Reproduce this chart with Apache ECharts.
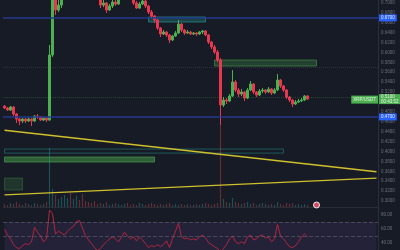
<!DOCTYPE html>
<html><head><meta charset="utf-8">
<script src="https://cdn.jsdelivr.net/npm/echarts@6/dist/echarts.min.js"></script>
<style>html,body{margin:0;padding:0;background:#171b26;}#c{width:400px;height:250px;}</style>
</head><body><div id="c"></div>
<script>
// ---- data ----
const categories = Array.from({length:125}, (_, i) => 'T' + i);
// [open, close, low, high]
const candles = [
[0.4920,0.4879,0.4859,0.4940],[0.4879,0.4839,0.4819,0.4900],[0.4839,0.4900,0.4819,0.4920],[0.4900,0.4758,0.4718,0.4920],
[0.4758,0.4657,0.4576,0.4779],[0.4657,0.4617,0.4536,0.4677],[0.4617,0.4657,0.4576,0.4677],[0.4657,0.4617,0.4576,0.4677],
[0.4617,0.4657,0.4597,0.4698],[0.4657,0.4617,0.4516,0.4677],[0.4617,0.4718,0.4597,0.4738],[0.4718,0.4698,0.4657,0.4758],
[0.4698,0.4637,0.4617,0.4718],[0.4637,0.4677,0.4617,0.4698],[0.4677,0.4637,0.4597,0.4698],[0.4637,0.5950,0.4617,0.6152],
[0.5950,0.7263,0.5910,0.7667],[0.7263,0.6859,0.6758,0.7364],[0.6859,0.6960,0.6818,0.7061],[0.6960,0.7222,0.6899,0.7303],
[0.7222,0.7400,0.7180,0.7450],[0.7400,0.7560,0.7380,0.7620],[0.7560,0.7480,0.7420,0.7600],[0.7480,0.7650,0.7460,0.7700],
[0.7650,0.7780,0.7600,0.7850],[0.7780,0.7700,0.7650,0.7820],[0.7700,0.7600,0.7550,0.7750],[0.7600,0.7500,0.7450,0.7650],
[0.7500,0.7420,0.7350,0.7560],[0.7420,0.7350,0.7280,0.7460],[0.7350,0.7280,0.7200,0.7400],[0.7280,0.7200,0.7150,0.7320],
[0.7162,0.6960,0.6899,0.7222],[0.6960,0.7000,0.6919,0.7061],[0.7000,0.6859,0.6798,0.7020],[0.6859,0.6940,0.6839,0.6980],
[0.6940,0.7020,0.6899,0.7081],[0.7020,0.6980,0.6940,0.7061],[0.6980,0.7122,0.6960,0.7182],[0.7122,0.7250,0.7100,0.7300],
[0.7250,0.7330,0.7200,0.7380],[0.7330,0.7220,0.7180,0.7360],[0.7220,0.7120,0.7090,0.7260],[0.7101,0.7000,0.6960,0.7142],
[0.7000,0.6899,0.6879,0.7040],[0.6899,0.6980,0.6879,0.7020],[0.6980,0.7040,0.6960,0.7081],[0.7040,0.6940,0.6899,0.7061],
[0.6940,0.6818,0.6778,0.6960],[0.6818,0.6737,0.6697,0.6859],[0.6737,0.6657,0.6596,0.6758],[0.6657,0.6495,0.6455,0.6677],
[0.6495,0.6374,0.6314,0.6515],[0.6374,0.6414,0.6354,0.6455],[0.6414,0.6354,0.6314,0.6435],[0.6354,0.6253,0.6192,0.6374],
[0.6253,0.6334,0.6233,0.6354],[0.6334,0.6394,0.6314,0.6435],[0.6394,0.6576,0.6374,0.6657],[0.6576,0.6455,0.6414,0.6596],
[0.6455,0.6394,0.6354,0.6475],[0.6394,0.6414,0.6374,0.6455],[0.6414,0.6374,0.6354,0.6435],[0.6374,0.6394,0.6354,0.6414],
[0.6394,0.6374,0.6334,0.6414],[0.6374,0.6414,0.6354,0.6435],[0.6414,0.6435,0.6374,0.6455],[0.6435,0.6354,0.6334,0.6455],
[0.6354,0.6212,0.6172,0.6374],[0.6212,0.6112,0.6071,0.6233],[0.6112,0.6011,0.5970,0.6152],[0.6011,0.5849,0.5809,0.6051],
[0.5849,0.4940,0.4536,0.5889],[0.4940,0.5041,0.4900,0.5102],[0.5041,0.5021,0.4960,0.5081],[0.5021,0.5122,0.5001,0.5162],
[0.5122,0.5405,0.5102,0.5647],[0.5405,0.5243,0.5203,0.5445],[0.5243,0.5162,0.5102,0.5283],[0.5162,0.5203,0.5122,0.5263],
[0.5203,0.5081,0.5021,0.5223],[0.5081,0.5243,0.5061,0.5283],[0.5243,0.5364,0.5223,0.5425],[0.5364,0.5203,0.5162,0.5384],
[0.5203,0.5142,0.5102,0.5223],[0.5142,0.5223,0.5122,0.5263],[0.5223,0.5243,0.5182,0.5283],[0.5243,0.5203,0.5162,0.5263],
[0.5203,0.5263,0.5182,0.5304],[0.5263,0.5182,0.5142,0.5283],[0.5182,0.5243,0.5162,0.5283],[0.5243,0.5445,0.5223,0.5566],
[0.5445,0.5324,0.5283,0.5465],[0.5324,0.5243,0.5203,0.5344],[0.5243,0.5102,0.5061,0.5263],[0.5102,0.5041,0.5001,0.5122],
[0.5041,0.4960,0.4900,0.5061],[0.4960,0.5001,0.4940,0.5041],[0.5001,0.5021,0.4980,0.5061],[0.5021,0.5041,0.5001,0.5081],
[0.5041,0.5122,0.5021,0.5142],[0.5122,0.5061,0.5041,0.5142]
];
const volumes = [
3,2,4,3,5,3,2,4,3,2,4,3,2,3,5,59,18,12,8,10,
12,9,14,8,11,7,13,6,5,4,6,3,4,3,5,2,3,4,3,2,
3,4,2,3,2,4,3,2,3,4,3,2,3,2,3,4,2,3,2,3,
2,3,2,2,3,2,3,4,3,2,3,4,82,8,5,4,9,5,4,3,
4,5,3,4,2,3,4,3,2,3,2,5,3,2,4,3,4,2,3,2,
3,2
];
const rsiValues = [
59.7,51.4,45.9,37.6,33.4,32.1,36.2,39.0,37.6,41.7,62.4,55.5,50.0,41.7,45.9,87.0,81.7,52.8,56.9,54.1,
51.4,56.9,61.0,63.8,70.7,72.1,61.0,50.0,44.5,39.0,33.4,29.3,32.1,37.6,41.7,45.9,48.6,45.9,41.7,48.6,
55.5,50.0,45.9,48.6,43.1,48.6,44.5,39.0,33.4,36.2,34.8,37.6,34.8,37.6,43.1,33.4,45.9,56.9,67.9,48.6,
45.9,47.2,44.5,45.9,44.5,48.6,51.4,47.2,40.3,37.6,34.8,32.1,27.9,32.1,37.6,45.9,50.0,41.7,39.0,41.7,
39.0,48.6,51.4,44.5,45.9,50.0,51.4,47.2,48.6,41.7,45.9,66.6,50.0,45.9,40.3,34.8,33.4,36.2,41.7,48.6,
52.8,48.6
];
const upperLevel = 0.6677;
const lowerLevel = 0.4737;
const lastPrice = 0.5061;
const dottedLevel = 0.5708;
const symbolName = 'XRP/USDT';
const countdown = '00:43:52';
const priceTickStep = 0.02;
const rsiTicks = [40, 60, 80];

// ---- chart ----
const UP = '#4caf50', DOWN = '#e8384f';
const chart = echarts.init(document.getElementById('c'));
const lbl = {fontSize:4.5, color:'#6a6e79', fontFamily:'Roboto'};
const option = {
  backgroundColor:'#171b26',
  animation:false,
  grid:[
    {left:3, right:22, top:0, height:211},
    {left:3, right:22, top:100, height:107},
    {left:3, right:22, top:208, bottom:0}
  ],
  xAxis:[
    {type:'category', data:categories, gridIndex:0, show:false},
    {type:'category', data:categories, gridIndex:1, axisLine:{show:true, lineStyle:{color:'#2a2e39'}}, axisTick:{show:false}, axisLabel:{show:false}},
    {type:'category', data:categories, gridIndex:2, show:false}
  ],
  yAxis:[
    {gridIndex:0, position:'right', min:0.28, max:0.7061, interval:priceTickStep, splitLine:{show:false},
     axisLine:{show:true, lineStyle:{color:'#2a2e39'}}, axisTick:{show:false},
     axisLabel:Object.assign({margin:3, showMinLabel:false, showMaxLabel:false, formatter:v=>v.toFixed(4)}, lbl)},
    {gridIndex:1, min:0, max:107, show:false},
    {gridIndex:2, position:'right', min:30, max:90, interval:10, splitLine:{show:false},
     axisLine:{show:true, lineStyle:{color:'#2a2e39'}}, axisTick:{show:false},
     axisLabel:Object.assign({margin:3, showMinLabel:false, showMaxLabel:false,
       formatter:v=>rsiTicks.includes(v)?v.toFixed(2):''}, lbl)}
  ],
  series:[
    {type:'bar', xAxisIndex:1, yAxisIndex:1, barWidth:'40%',
     data:volumes.map((v,i)=>({value:v, itemStyle:{color: candles[i][1]>=candles[i][0]?'rgba(38,166,154,0.4)':'rgba(239,83,80,0.35)'}})),
     markPoint:{symbol:'circle', symbolSize:6, label:{show:false},
       itemStyle:{color:'#d9475a', borderColor:'#e8eaf6', borderWidth:1},
       data:[{coord:[104, 2]}]}
    },
    {type:'candlestick', xAxisIndex:0, yAxisIndex:0, barWidth:'60%', clip:true,
     data:candles,
     itemStyle:{color:UP, color0:DOWN, borderColor:UP, borderColor0:DOWN, borderWidth:1},
     markArea:{silent:true, data:[
       [{xAxis:48, yAxis:0.6718, itemStyle:{color:'rgba(38,166,154,0.28)', borderColor:'rgba(38,166,154,0.6)', borderWidth:1}}, {xAxis:67, yAxis:0.6617}],
       [{xAxis:70, yAxis:0.5849, itemStyle:{color:'rgba(76,175,80,0.25)', borderColor:'rgba(76,175,80,0.5)', borderWidth:1}}, {xAxis:104, yAxis:0.5728}],
       [{xAxis:0, yAxis:0.3890, itemStyle:{color:'rgba(76,175,80,0.45)', borderColor:'rgba(76,175,80,0.6)', borderWidth:1}}, {xAxis:50, yAxis:0.3789}],
       [{xAxis:0, yAxis:0.3465, itemStyle:{color:'rgba(76,175,80,0.18)', borderColor:'rgba(76,175,80,0.3)', borderWidth:1}}, {xAxis:6, yAxis:0.3223}],
       [{xAxis:0, yAxis:0.4051, itemStyle:{color:'rgba(0,0,0,0)', borderColor:'rgba(38,166,154,0.45)', borderWidth:1}}, {xAxis:93, yAxis:0.3970}]
     ]},
     markLine:{silent:true, symbol:['none','none'], data:[
       {yAxis:dottedLevel, lineStyle:{color:'rgba(120,123,134,0.25)', type:'dotted', width:1}, label:{show:false}},
       {yAxis:upperLevel, lineStyle:{color:'#24388c', type:'solid', width:1.5},
        label:{position:'end', distance:1, formatter:p=>p.value.toFixed(4), backgroundColor:'#2962ff', color:'#e8ecff', fontSize:4.5, padding:[1,2,1,2]}},
       {yAxis:lowerLevel, lineStyle:{color:'#24388c', type:'solid', width:1.5},
        label:{position:'end', distance:1, formatter:p=>p.value.toFixed(4), backgroundColor:'#2962ff', color:'#e8ecff', fontSize:4.5, padding:[1,2,1,2]}},
       {yAxis:lastPrice, lineStyle:{color:'rgba(76,175,80,0.3)', type:'dotted', width:1},
        label:{position:'end', distance:1, offset:[0,2], formatter:p=>p.value.toFixed(4)+'\n'+countdown, backgroundColor:UP, color:'#e8f5e9', fontSize:4.5, lineHeight:4.5, padding:[0.5,2,0.5,2]}},
       {yAxis:lastPrice, lineStyle:{color:'rgba(0,0,0,0)', width:0.1},
        label:{show:true, position:'insideEndTop', distance:0, offset:[0,6.5], formatter:symbolName, backgroundColor:UP, color:'#e8f5e9', fontSize:4.5, padding:[1.5,2,1.5,2]}},
       [{coord:[0,0.4431], lineStyle:{color:'#cfc02c', width:1.3, type:'solid'}, label:{show:false}}, {coord:[124,0.3593]}],
       [{coord:[0,0.3124], lineStyle:{color:'#cfc02c', width:1.3, type:'solid'}, label:{show:false}}, {coord:[124,0.3463]}]
     ]}
    },
    {type:'line', xAxisIndex:2, yAxisIndex:2, data:rsiValues, symbol:'none',
     lineStyle:{color:'#b0273f', width:1},
     markArea:{silent:true, itemStyle:{color:'rgba(126,87,194,0.12)'}, data:[[{xAxis:0, yAxis:70}, {xAxis:124, yAxis:30}]]},
     markLine:{silent:true, symbol:['none','none'], label:{show:false},
       lineStyle:{color:'rgba(120,123,134,0.45)', type:'dashed', width:1},
       data:[{yAxis:70},{yAxis:50}]}
    }
  ]
};
chart.setOption(option);
</script>
</body></html>
